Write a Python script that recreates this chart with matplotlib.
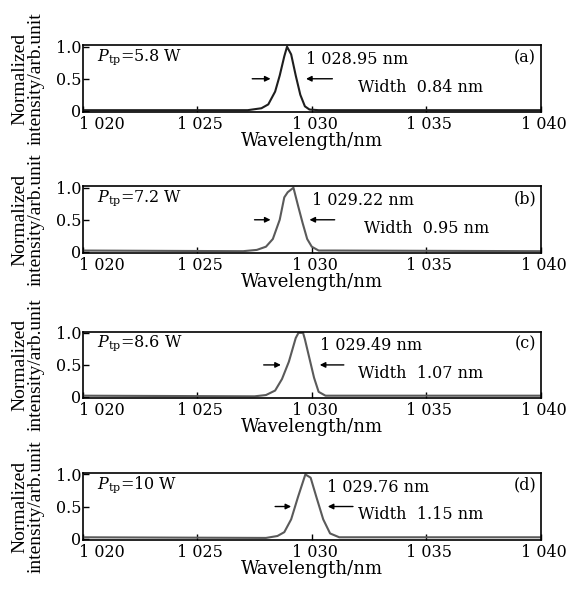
import numpy as np
import matplotlib
matplotlib.use('Agg')
import matplotlib.pyplot as plt
import matplotlib.transforms as mtransforms

plt.rcParams['font.family'] = ['DejaVu Serif']
plt.rcParams['mathtext.fontset'] = 'dejavuserif'

# spectra (wavelength in nm, normalized intensity)
wl_a = [1020.0, 1027.2, 1027.8, 1028.1, 1028.4, 1028.6, 1028.8, 1028.92, 1029.1, 1029.3, 1029.5, 1029.7, 1029.9, 1030.3, 1040.0]
int_a = [0.01, 0.01, 0.04, 0.10, 0.30, 0.55, 0.85, 1.00, 0.88, 0.55, 0.25, 0.07, 0.02, 0.01, 0.01]

wl_b = [1020.0, 1027.0, 1027.6, 1028.0, 1028.3, 1028.6, 1028.8, 1028.95, 1029.2, 1029.4, 1029.6, 1029.8, 1030.0, 1030.3, 1031.0, 1040.0]
int_b = [0.02, 0.01, 0.03, 0.08, 0.20, 0.50, 0.85, 0.93, 1.00, 0.72, 0.45, 0.20, 0.08, 0.02, 0.02, 0.01]

wl_c = [1020.0, 1027.5, 1028.0, 1028.4, 1028.7, 1029.0, 1029.3, 1029.42, 1029.62, 1029.7, 1029.9, 1030.1, 1030.3, 1030.6, 1040.0]
int_c = [0.02, 0.01, 0.03, 0.10, 0.28, 0.55, 0.92, 1.00, 1.00, 0.90, 0.60, 0.30, 0.08, 0.02, 0.02]

wl_d = [1020.0, 1028.0, 1028.5, 1028.8, 1029.1, 1029.4, 1029.72, 1029.95, 1030.2, 1030.5, 1030.8, 1031.2, 1040.0]
int_d = [0.02, 0.01, 0.04, 0.10, 0.30, 0.65, 1.00, 0.95, 0.65, 0.30, 0.08, 0.02, 0.02]

powers = ['5.8 W', '7.2 W', '8.6 W', '10 W']
centers = ['1 028.95 nm', '1 029.22 nm', '1 029.49 nm', '1 029.76 nm']
widths = ['0.84', '0.95', '1.07', '1.15']
tags = ['(a)', '(b)', '(c)', '(d)']
colors = ['#1e1e1e', '#5a5a5a', '#5a5a5a', '#5a5a5a']

xticks = [1020, 1025, 1030, 1035, 1040]
xticklabels = ['1 020', '1 025', '1 030', '1 035', '1 040']

# annotation placement per panel
arrows_l = [(1027.4, 1028.2), (1027.5, 1028.2), (1027.9, 1028.65), (1028.4, 1029.1)]
arrows_r = [(1030.9, 1029.75), (1031.0, 1029.9), (1031.4, 1030.35), (1031.8, 1030.7)]
center_x = [1029.75, 1030.0, 1030.35, 1030.65]
width_x = [1032.0, 1032.3, 1032.0, 1032.0]

spectra = [(wl_a, int_a), (wl_b, int_b), (wl_c, int_c), (wl_d, int_d)]
bottoms = [0.810, 0.571, 0.325, 0.085]

fig = plt.figure(figsize=(5.71, 5.90), dpi=100)

for i, (wl, inten) in enumerate(spectra):
    ax = fig.add_axes([0.145, bottoms[i], 0.802, 0.113])
    ax.plot(wl, inten, color=colors[i], lw=1.5)
    ax.set_xlim(1020, 1040)
    ax.set_ylim(-0.02, 1.02)
    ax.set_xticks(xticks)
    ax.set_xticklabels(xticklabels)
    ax.set_yticks([0, 0.5, 1.0])
    ax.set_yticklabels(['0', '0.5', '1.0'])
    ax.tick_params(direction='in', length=4, width=1, labelsize=11.5)
    ax.tick_params(axis='x', pad=3)
    ax.tick_params(axis='y', pad=1)
    # labels sit a little right of their ticks, first one starts at the spine
    for k, lab in enumerate(ax.get_xticklabels()):
        dx = -0.04 if k == 0 else 0.03
        shift = mtransforms.ScaledTranslation(dx, 0, fig.dpi_scale_trans)
        lab.set_transform(lab.get_transform() + shift)
        if k == 0:
            lab.set_ha('left')
    for s in ax.spines.values():
        s.set_linewidth(1.2)
    ax.set_xlabel('Wavelength/nm', fontsize=13, labelpad=-1)
    ax.set_ylabel('Normalized\nintensity/arb.unit', fontsize=14, labelpad=8,
                  linespacing=0.95, family='Liberation Serif')

    ax.text(1020.6, 0.84, r'$P_{\rm tp}$=' + powers[i], fontsize=11.5, va='center')
    ax.text(0.99, 0.82, tags[i], transform=ax.transAxes, fontsize=11.5, ha='right', va='center')
    ax.text(center_x[i], 0.80, centers[i], fontsize=11.5, va='center')
    ax.text(width_x[i], 0.37, 'Width  ' + widths[i] + ' nm', fontsize=11.5, va='center')

    ax.annotate('', xy=(arrows_l[i][1], 0.5), xytext=(arrows_l[i][0], 0.5),
                arrowprops=dict(arrowstyle='-|>', color='black', lw=1.0,
                                mutation_scale=8, shrinkA=0, shrinkB=0))
    ax.annotate('', xy=(arrows_r[i][1], 0.5), xytext=(arrows_r[i][0], 0.5),
                arrowprops=dict(arrowstyle='-|>', color='black', lw=1.0,
                                mutation_scale=8, shrinkA=0, shrinkB=0))

fig.savefig('out.png', dpi=100)
